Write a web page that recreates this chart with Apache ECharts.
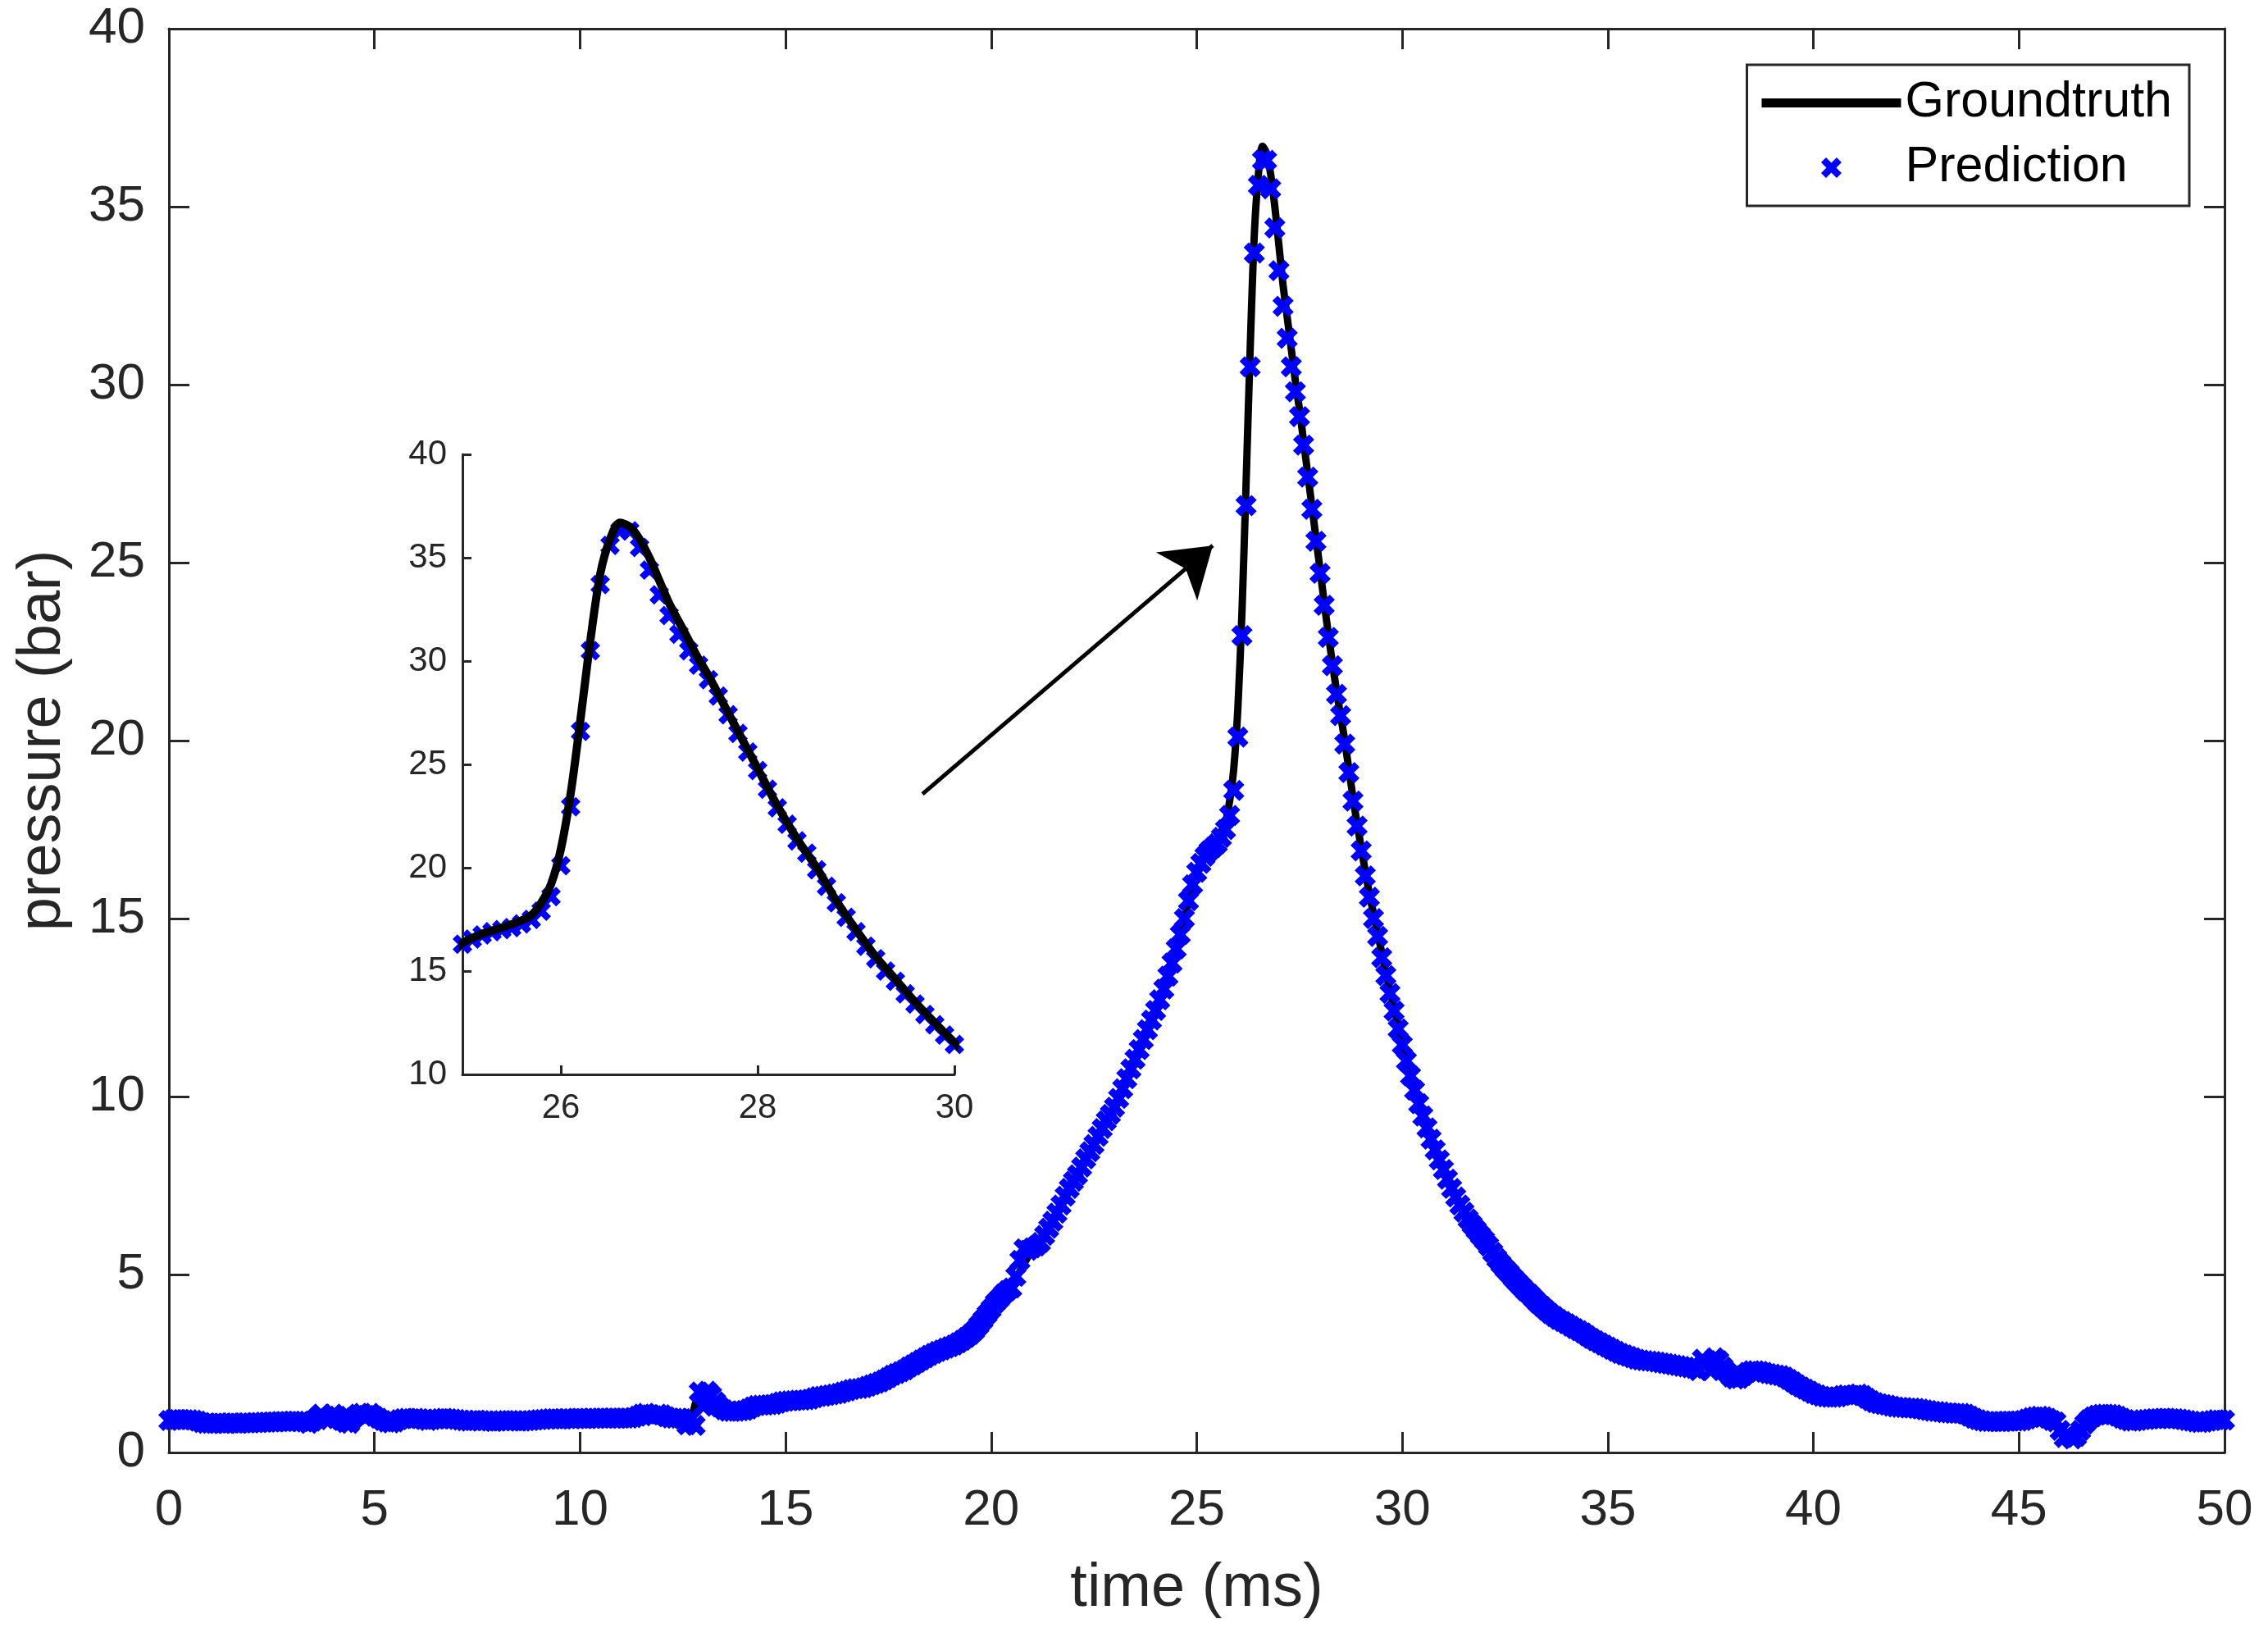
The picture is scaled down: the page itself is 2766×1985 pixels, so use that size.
<!DOCTYPE html>
<html>
<head>
<meta charset="utf-8">
<title>pressure vs time</title>
<script src="https://cdn.jsdelivr.net/npm/echarts@6/dist/echarts.min.js"></script>
<style>
  html, body { margin: 0; padding: 0; background: #fff; }
  #chart { width: 2766px; height: 1985px; }
</style>
</head>
<body>
<div id="chart"></div>
<script>
// prediction is sampled every 0.1 ms from 0 to 50 ms (one row = 1 ms)
var predStep = 0.1;
var predPressure = [
  0.90,0.92,0.93,0.93,0.92,0.92,0.91,0.88,0.84,0.82,
  0.82,0.82,0.83,0.82,0.82,0.83,0.83,0.82,0.83,0.83,
  0.83,0.84,0.84,0.85,0.85,0.86,0.86,0.87,0.87,0.87,
  0.88,0.88,0.87,0.86,0.82,0.88,0.97,1.08,0.95,0.92,
  1.08,1.02,0.90,0.84,0.82,0.98,1.08,1.10,1.04,1.10,
  1.02,0.96,0.90,0.85,0.83,0.86,0.92,0.95,0.96,0.95,
  0.96,0.95,0.93,0.90,0.92,0.94,0.95,0.96,0.95,0.94,
  0.93,0.91,0.89,0.88,0.90,0.91,0.90,0.89,0.88,0.87,
  0.88,0.89,0.90,0.90,0.89,0.88,0.88,0.89,0.90,0.91,
  0.92,0.93,0.94,0.95,0.95,0.94,0.94,0.95,0.95,0.96,
  0.96,0.95,0.95,0.96,0.96,0.97,0.96,0.96,0.97,0.97,
  0.97,0.96,0.96,0.98,1.02,1.08,1.10,1.06,1.03,1.08,
  1.06,1.00,0.97,0.96,0.96,0.95,0.78,0.95,0.76,1.70,
  1.30,1.72,1.60,1.42,1.28,1.20,1.16,1.15,1.16,1.17,
  1.18,1.22,1.28,1.32,1.33,1.33,1.34,1.35,1.38,1.42,
  1.44,1.45,1.46,1.47,1.47,1.48,1.50,1.54,1.57,1.58,
  1.60,1.62,1.64,1.66,1.70,1.73,1.77,1.79,1.80,1.82,
  1.86,1.90,1.94,1.98,2.04,2.10,2.17,2.22,2.27,2.32,
  2.40,2.46,2.53,2.60,2.66,2.73,2.78,2.84,2.88,2.93,
  2.97,3.02,3.08,3.15,3.23,3.32,3.43,3.57,3.72,3.88,
  4.03,4.20,4.32,4.45,4.55,4.62,4.95,5.40,5.72,5.68,
  5.75,5.80,5.90,6.10,6.30,6.50,6.72,6.95,7.20,7.42,
  7.62,7.80,8.02,8.25,8.45,8.65,8.88,9.10,9.32,9.50,
  9.70,9.95,10.22,10.50,10.78,11.05,11.32,11.60,11.88,12.15,
  12.42,12.72,13.02,13.38,13.75,14.15,14.55,15.00,15.50,15.95,
  16.30,16.55,16.75,16.90,17.00,17.10,17.28,17.50,17.90,18.60,
  20.10,22.95,26.60,30.50,33.70,35.60,36.30,36.30,35.50,34.40,
  33.20,32.20,31.30,30.50,29.80,29.10,28.30,27.40,26.50,25.60,
  24.70,23.80,22.90,22.10,21.30,20.70,19.90,19.10,18.30,17.60,
  16.90,16.20,15.60,15.00,14.50,13.90,13.40,12.90,12.40,11.90,
  11.45,11.00,10.58,10.18,9.80,9.45,9.12,8.80,8.50,8.22,
  7.95,7.68,7.42,7.18,6.95,6.75,6.56,6.40,6.25,6.10,
  5.96,5.80,5.62,5.45,5.30,5.16,5.04,4.90,4.78,4.66,
  4.54,4.44,4.32,4.20,4.10,4.00,3.90,3.82,3.74,3.68,
  3.62,3.55,3.48,3.42,3.36,3.28,3.20,3.14,3.08,3.02,
  2.96,2.90,2.84,2.78,2.74,2.70,2.66,2.62,2.60,2.58,
  2.57,2.56,2.54,2.52,2.50,2.48,2.46,2.44,2.42,2.40,
  2.38,2.36,2.30,2.62,2.48,2.30,2.66,2.58,2.40,2.25,
  2.12,2.06,2.08,2.16,2.25,2.30,2.30,2.28,2.25,2.22,
  2.20,2.18,2.16,2.12,2.05,1.98,1.90,1.84,1.78,1.72,
  1.66,1.62,1.58,1.56,1.55,1.55,1.56,1.60,1.62,1.60,
  1.62,1.64,1.60,1.52,1.45,1.40,1.37,1.35,1.33,1.30,
  1.28,1.27,1.26,1.25,1.25,1.24,1.22,1.20,1.18,1.16,
  1.15,1.14,1.12,1.11,1.10,1.10,1.10,1.08,1.02,0.96,
  0.92,0.89,0.87,0.87,0.87,0.87,0.87,0.88,0.88,0.88,
  0.88,0.90,0.94,0.98,1.00,1.02,1.00,0.96,0.90,0.86,
  0.62,0.42,0.50,0.38,0.45,0.62,0.80,0.92,1.00,1.05,
  1.07,1.08,1.07,1.06,1.02,0.96,0.92,0.88,0.88,0.90,
  0.92,0.93,0.94,0.95,0.95,0.96,0.96,0.95,0.95,0.94,
  0.92,0.90,0.88,0.86,0.84,0.85,0.88,0.90,0.92,0.91,
  0.91
];

// groundtruth curve
var gtTime = [0,1,2,3,3.7,4,4.5,5,6,7,8,9,10,11,11.6,12,12.5,12.7,12.8,12.9,13.1,13.4,13.8,14.5,15,16,17,18,19,19.5,
  20,20.5,21,21.5,22,22.5,23,23.5,24,24.5,24.8,25,25.2,25.4,25.6,25.7,25.8,25.9,26,26.1,26.2,26.3,26.4,26.5,26.6,26.7,26.8,26.9,
  27,27.1,27.2,27.3,27.4,27.5,27.6,27.7,27.8,27.9,28,28.2,28.4,28.6,28.8,29,29.2,29.4,29.6,29.8,30,30.5,31,31.5,32,32.5,
  33,33.5,34,34.5,35,35.5,36,37,37.5,38,38.5,39,39.5,40,40.5,41,41.5,42,43,43.5,44,45,45.5,46,46.3,46.7,47,47.5,48,49,49.5,50];
var gtPressure = [0.90,0.84,0.85,0.88,0.98,1.00,0.98,0.95,0.93,0.90,0.89,0.93,0.96,0.98,1.06,1.02,0.97,1.00,1.35,1.62,1.55,1.25,1.16,1.33,1.44,1.60,1.86,2.40,2.97,3.32,
  4.00,4.70,5.70,6.50,7.60,8.65,9.70,11.05,12.42,14.15,15.50,16.35,16.80,17.10,17.45,17.70,18.30,19.20,20.90,23.60,27.20,31.00,34.20,35.90,36.70,36.50,35.90,35.00,
  33.90,32.80,31.90,31.00,30.10,29.30,28.40,27.50,26.60,25.70,24.80,23.00,21.40,20.00,18.40,17.00,15.70,14.60,13.50,12.50,11.55,9.45,7.95,6.75,5.96,5.23,
  4.54,4.00,3.62,3.28,2.96,2.70,2.57,2.38,2.45,2.12,2.28,2.20,1.98,1.66,1.55,1.62,1.40,1.28,1.15,1.10,0.92,0.88,1.02,0.62,0.45,0.85,1.07,0.96,0.92,0.92,0.84,0.91];

var insetXTicks = [26, 28, 30];
var arrowFrom = [18.33, 18.5];
var arrowTo = [25.39, 25.48];

var predData = [];
for (var i = 0; i < predPressure.length; i++) {
  predData.push([+(i * predStep).toFixed(1), predPressure[i]]);
}
var gtData = [];
for (var j = 0; j < gtTime.length; j++) {
  gtData.push([gtTime[j], gtPressure[j]]);
}

var FONT = '"Liberation Sans", Arial, Helvetica, sans-serif';
var AXIS = '#262626';
// bold "x" marker
var cross = 'path://M0,2.4 L2.4,0 L5,2.6 L7.6,0 L10,2.4 L7.4,5 L10,7.6 L7.6,10 L5,7.4 L2.4,10 L0,7.6 L2.6,5 Z';
var legendLine = 'path://M0,0 L170,0 L170,11 L0,11 Z';

function frameAxis(extra) {
  var a = {
    type: 'value',
    axisLine: { show: true, onZero: false, lineStyle: { color: AXIS, width: 3 } },
    axisTick: { show: true, inside: true, length: 25, lineStyle: { color: AXIS, width: 3 } },
    axisLabel: { show: false },
    splitLine: { show: false }
  };
  for (var k in extra) a[k] = extra[k];
  return a;
}

var chart = echarts.init(document.getElementById('chart'), null, { renderer: 'canvas' });
var option = {
  animation: false,
  backgroundColor: '#fff',
  textStyle: { fontFamily: FONT },
  grid: [
    { left: 206, top: 35, right: 53, bottom: 214, containLabel: false },
    { left: 564, top: 554, width: 600, height: 756, containLabel: false }
  ],
  legend: {
    data: [
      { name: 'Groundtruth', icon: legendLine },
      { name: 'Prediction', icon: cross }
    ],
    orient: 'vertical',
    right: 96,
    top: 79,
    padding: [16, 21, 16, 18],
    itemWidth: 170,
    itemHeight: 25,
    itemGap: 18,
    itemTextGap: 16,
    symbolKeepAspect: true,
    borderColor: AXIS,
    borderWidth: 3,
    borderRadius: 0,
    backgroundColor: '#fff',
    selectedMode: false,
    textStyle: { fontFamily: FONT, fontSize: 61, color: '#000', lineHeight: 60 }
  },
  xAxis: [
    frameAxis({
      gridIndex: 0, position: 'bottom', min: 0, max: 50, interval: 5,
      axisLabel: { show: true, fontSize: 62, color: AXIS, margin: 40, fontFamily: FONT },
      name: 'time (ms)', nameLocation: 'middle', nameGap: 130,
      nameTextStyle: { fontSize: 74, color: AXIS, fontFamily: FONT }
    }),
    frameAxis({ gridIndex: 0, position: 'top', min: 0, max: 50, interval: 5 }),
    frameAxis({
      gridIndex: 1, position: 'bottom', min: 25, max: 30,
      axisTick: { show: true, inside: true, length: 11, customValues: insetXTicks, lineStyle: { color: AXIS, width: 3 } },
      axisLabel: { show: true, fontSize: 42, color: AXIS, margin: 20, fontFamily: FONT, customValues: insetXTicks }
    })
  ],
  yAxis: [
    frameAxis({
      gridIndex: 0, position: 'left', min: 0, max: 40, interval: 5,
      axisLabel: { show: true, fontSize: 62, color: AXIS, margin: 29, fontFamily: FONT },
      name: 'pressure (bar)', nameLocation: 'middle', nameGap: 116,
      nameTextStyle: { fontSize: 74, color: AXIS, fontFamily: FONT }
    }),
    frameAxis({ gridIndex: 0, position: 'right', min: 0, max: 40, interval: 5 }),
    frameAxis({
      gridIndex: 1, position: 'left', min: 10, max: 40, interval: 5,
      axisTick: { show: true, inside: true, length: 11, lineStyle: { color: AXIS, width: 3 } },
      axisLabel: { show: true, fontSize: 42, color: AXIS, margin: 19, fontFamily: FONT }
    })
  ],
  series: [
    {
      name: 'Groundtruth', type: 'line', xAxisIndex: 0, yAxisIndex: 0,
      data: gtData, showSymbol: false, symbol: 'none', smooth: 0.3,
      lineStyle: { color: '#000', width: 9 }, itemStyle: { color: '#000' },
      z: 2, silent: true
    },
    {
      name: 'Prediction', type: 'scatter', xAxisIndex: 0, yAxisIndex: 0,
      data: predData, symbol: cross, symbolSize: 26, symbolKeepAspect: true,
      itemStyle: { color: '#0000ff', opacity: 1 },
      z: 3, silent: true,
      markLine: {
        silent: true, animation: false,
        symbol: ['none', 'arrow'], symbolSize: 58,
        label: { show: false },
        lineStyle: { color: '#000', width: 5, type: 'solid' },
        emphasis: { disabled: true },
        data: [[{ coord: arrowFrom }, { coord: arrowTo }]]
      }
    },
    {
      name: 'Prediction', type: 'scatter', xAxisIndex: 2, yAxisIndex: 2,
      data: predData, symbol: cross, symbolSize: 24, symbolKeepAspect: true,
      itemStyle: { color: '#0000ff', opacity: 1 },
      z: 3, silent: true
    },
    {
      name: 'Groundtruth', type: 'line', xAxisIndex: 2, yAxisIndex: 2,
      data: gtData, showSymbol: false, symbol: 'none', smooth: 0.3,
      lineStyle: { color: '#000', width: 10 }, itemStyle: { color: '#000' },
      z: 4, silent: true
    }
  ]
};
chart.setOption(option);
</script>
</body>
</html>
